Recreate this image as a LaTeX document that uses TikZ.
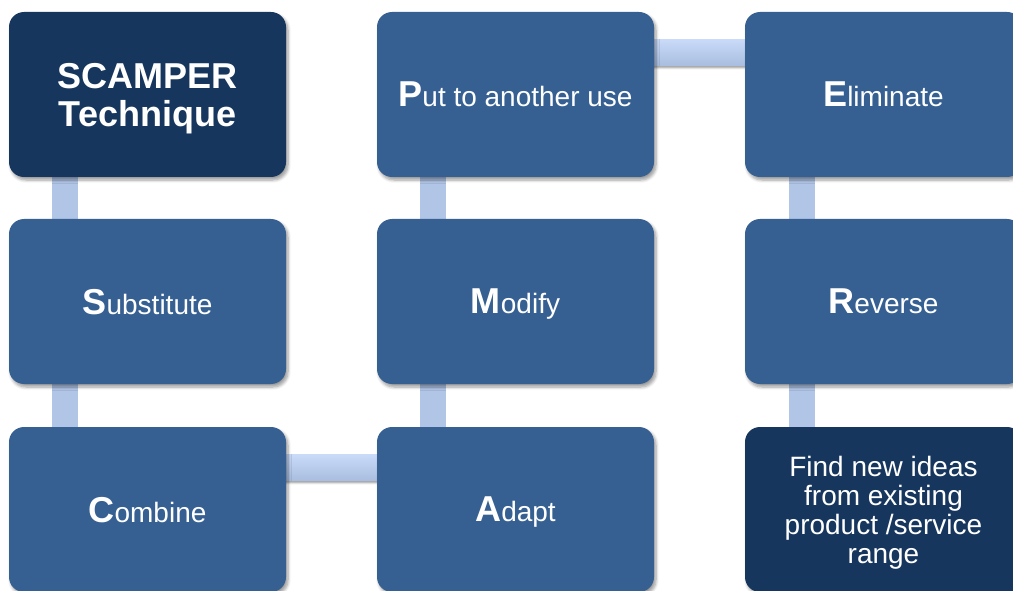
\documentclass[tikz,border=0pt]{standalone}
\usepackage{fontspec}
\setmainfont{Liberation Sans}
\usetikzlibrary{calc,shadows.blur}
\definecolor{darkbox}{HTML}{17365D}
\definecolor{midbox}{HTML}{376092}
\definecolor{barcol}{HTML}{B1C5E6}
\definecolor{bartop}{HTML}{C9DAF8}
\definecolor{barbot}{HTML}{A8BDDF}
\pgfdeclarelayer{bg}
\pgfsetlayers{bg,main}
\tikzset{
  box/.style={rectangle, rounded corners=15pt, minimum width=277pt, minimum height=165pt,
    inner sep=0pt, fill=midbox, text=white, align=center, text depth=0pt,
    font=\fontsize{28}{29}\selectfont,
    blur shadow={shadow xshift=2pt, shadow yshift=-3pt, shadow blur steps=6, shadow opacity=40, shadow blur radius=3pt}},
  darkbox/.style={box, fill=darkbox},
  vbar/.style={draw=barcol, line width=26pt},
  hbar/.style={top color=bartop, bottom color=barbot, draw=none,
    blur shadow={shadow xshift=0pt, shadow yshift=-2pt, shadow blur steps=4, shadow opacity=40, shadow blur radius=2pt}},
}
\newcommand{\firstl}[1]{{\fontsize{36}{36}\selectfont\bfseries #1}}
\begin{document}
\begin{tikzpicture}[x=1pt,y=-1pt]
\useasboundingbox (0,0) rectangle (1013,591);
% column 1
\node[darkbox, font=\fontsize{36}{38}\selectfont\bfseries] (sc) at (147.5,94.5) {SCAMPER\\Technique};
\node[box] (s) at (147.5,301.5) {\firstl{S}ubstitute};
\node[box] (c) at (147.5,509.5) {\firstl{C}ombine};
% column 2
\node[box] (a) at (515.5,509.5) {\firstl{A}dapt};
\node[box] (m) at (515.5,301.5) {\firstl{M}odify};
\node[box] (p) at (515.5,94.5) {\firstl{P}ut to another use};
% column 3
\node[box] (e) at (883.5,94.5) {\firstl{E}liminate};
\node[box] (r) at (883.5,301.5) {\firstl{R}everse};
\node[darkbox] (f) at (883.5,509.5) {Find new ideas\\from existing\\product /service\\range};
% connectors
\begin{pgfonlayer}{bg}
\draw[vbar] ($(sc.south west)+(56,-5)$) -- ($(s.north west)+(56,5)$);
\draw[vbar] ($(s.south west)+(56,-5)$) -- ($(c.north west)+(56,5)$);
\path[hbar] ($(c.north east)+(-5,28)$) rectangle ($(a.north west)+(5,54)$);
\draw[vbar] ($(a.north west)+(56,5)$) -- ($(m.south west)+(56,-5)$);
\draw[vbar] ($(m.north west)+(56,5)$) -- ($(p.south west)+(56,-5)$);
\path[hbar] ($(p.north east)+(-5,28)$) rectangle ($(e.north west)+(5,54)$);
\draw[vbar] ($(e.south west)+(57,-5)$) -- ($(r.north west)+(57,5)$);
\draw[vbar] ($(r.south west)+(57,-5)$) -- ($(f.north west)+(57,5)$);
\end{pgfonlayer}
\end{tikzpicture}
\end{document}
